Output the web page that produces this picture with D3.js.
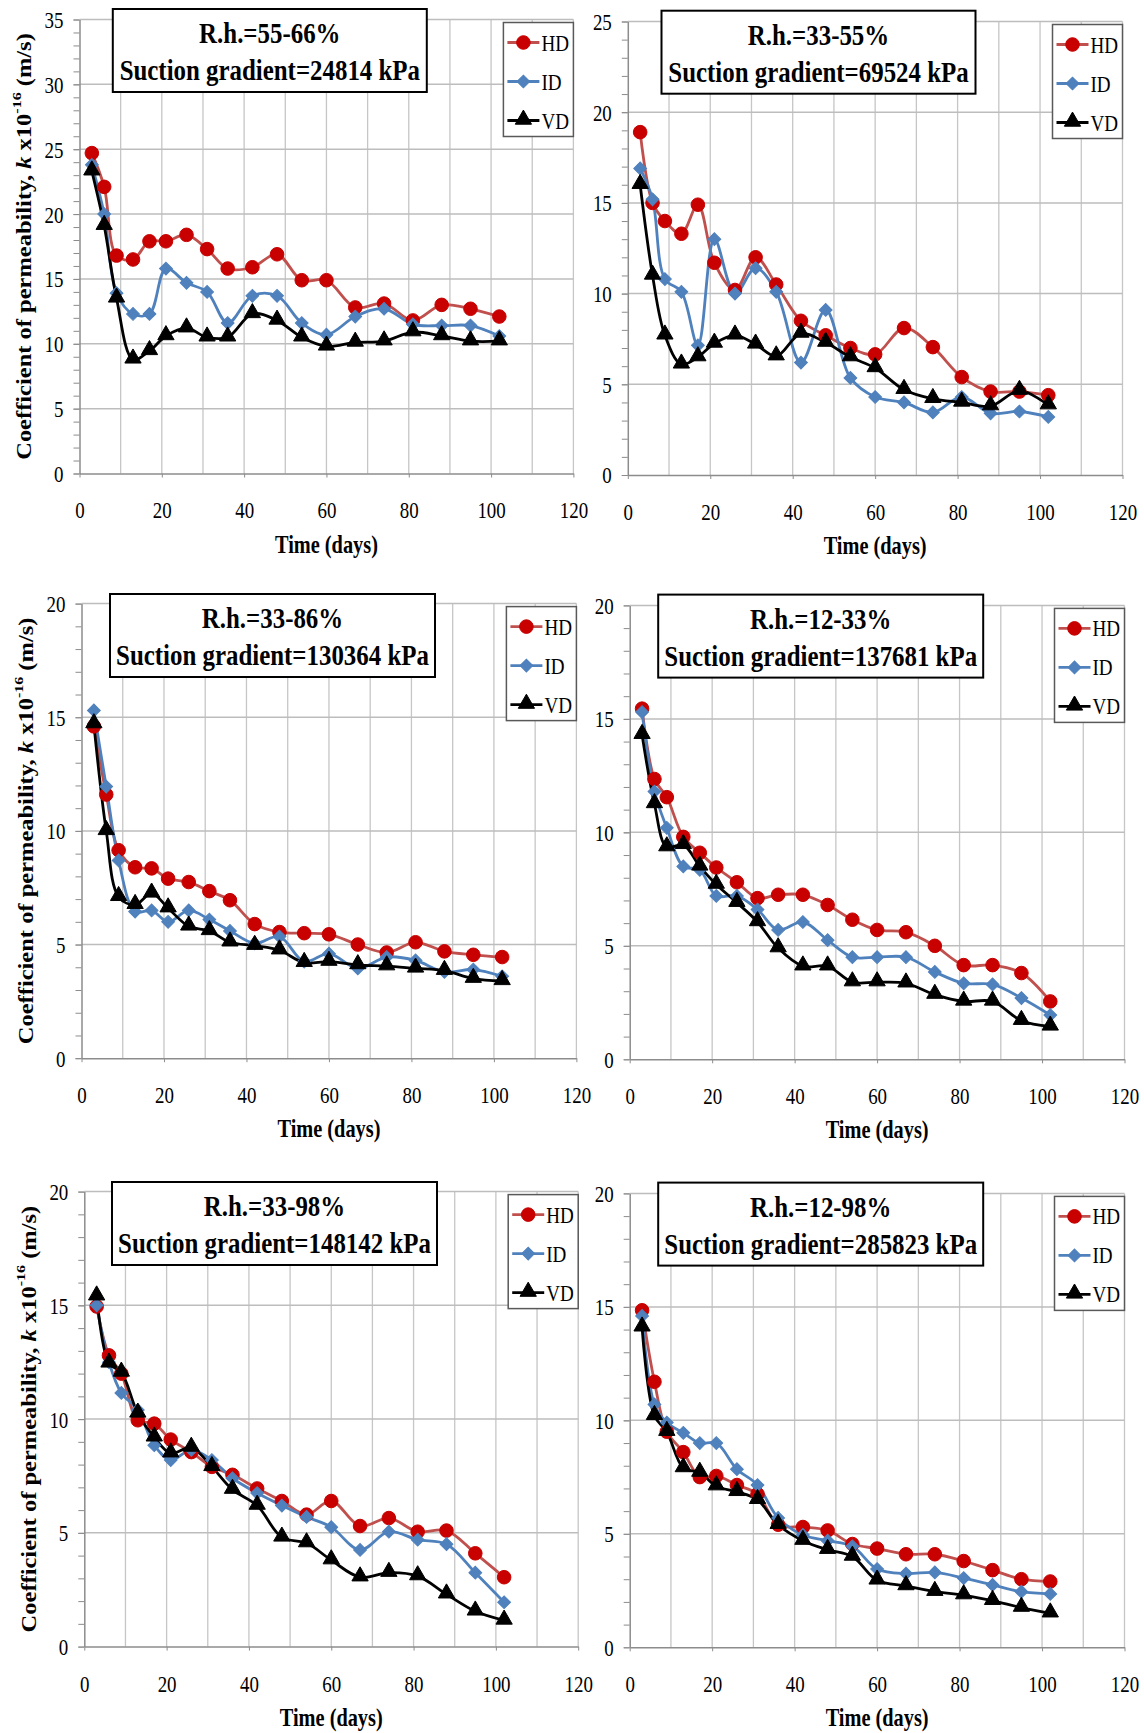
<!DOCTYPE html>
<html>
<head>
<meta charset="utf-8">
<script src="https://cdn.jsdelivr.net/npm/d3@7"></script>
<style>
  body { margin: 0; background: #fff; }
  svg { display: block; }
  svg text { font-family: 'Liberation Serif', 'Times New Roman', serif; }
</style>
</head>
<body>
<script>
// sampling days (x)
const days = [3, 6, 9, 13, 17, 21, 26, 31, 36, 42, 48, 54, 60, 67, 74, 81, 88, 95, 102];
const xTicks = [0, 20, 40, 60, 80, 100, 120];
const seriesNames = ['HD', 'ID', 'VD'];

const rhLabels = ['R.h.=55-66%', 'R.h.=33-55%', 'R.h.=33-86%', 'R.h.=12-33%', 'R.h.=33-98%', 'R.h.=12-98%'];
const suctionLabels = [
  'Suction gradient=24814 kPa',
  'Suction gradient=69524 kPa',
  'Suction gradient=130364 kPa',
  'Suction gradient=137681 kPa',
  'Suction gradient=148142 kPa',
  'Suction gradient=285823 kPa'
];
const yMax = [35, 25, 20, 20, 20, 20];

// panel 1 : R.h. 55-66%
const hd1 = [24.7, 22.1, 16.8, 16.5, 17.9, 17.9, 18.4, 17.3, 15.8, 15.9, 16.9, 14.9, 14.9, 12.8, 13.1, 11.8, 13.0, 12.7, 12.1];
const id1 = [23.8, 20.0, 13.9, 12.3, 12.3, 15.8, 14.7, 14.0, 11.6, 13.7, 13.7, 11.6, 10.7, 12.1, 12.7, 11.5, 11.4, 11.4, 10.6];
const vd1 = [23.3, 19.1, 13.5, 8.8, 9.45, 10.6, 11.2, 10.5, 10.5, 12.3, 11.8, 10.5, 9.8, 10.1, 10.2, 10.9, 10.6, 10.2, 10.2];
// panel 2 : R.h. 33-55%
const hd2 = [18.9, 15.0, 14.0, 13.3, 14.9, 11.7, 10.2, 12.0, 10.5, 8.5, 7.7, 7.0, 6.65, 8.1, 7.05, 5.4, 4.6, 4.6, 4.4];
const id2 = [16.9, 15.2, 10.8, 10.1, 7.15, 13.0, 10.0, 11.4, 10.1, 6.2, 9.1, 5.35, 4.3, 4.0, 3.45, 4.3, 3.4, 3.5, 3.2];
const vd2 = [16.0, 11.0, 7.7, 6.1, 6.5, 7.25, 7.7, 7.2, 6.55, 7.8, 7.3, 6.5, 5.9, 4.7, 4.2, 4.0, 3.8, 4.65, 3.85];
// panel 3 : R.h. 33-86%
const hd3 = [14.6, 11.6, 9.15, 8.4, 8.35, 7.9, 7.75, 7.35, 6.95, 5.9, 5.55, 5.5, 5.45, 5.0, 4.65, 5.1, 4.7, 4.55, 4.45];
const id3 = [15.3, 11.95, 8.7, 6.45, 6.5, 6.0, 6.5, 6.1, 5.6, 5.05, 5.35, 4.25, 4.6, 3.95, 4.45, 4.3, 3.8, 3.9, 3.6];
const vd3 = [14.7, 10.0, 7.1, 6.75, 7.25, 6.6, 5.8, 5.6, 5.1, 4.95, 4.75, 4.2, 4.25, 4.1, 4.05, 3.95, 3.85, 3.5, 3.4];
// panel 4 : R.h. 12-33%
const hd4 = [15.45, 12.35, 11.55, 9.8, 9.1, 8.45, 7.8, 7.1, 7.25, 7.25, 6.8, 6.15, 5.7, 5.6, 5.0, 4.15, 4.15, 3.8, 2.55];
const id4 = [15.3, 11.8, 10.2, 8.5, 8.35, 7.2, 7.2, 6.6, 5.7, 6.05, 5.25, 4.5, 4.5, 4.5, 3.85, 3.35, 3.3, 2.7, 1.95];
const vd4 = [14.3, 11.25, 9.35, 9.45, 8.5, 7.7, 6.9, 6.05, 4.9, 4.1, 4.1, 3.4, 3.4, 3.35, 2.85, 2.55, 2.55, 1.7, 1.45];
// panel 5 : R.h. 33-98%
const hd5 = [14.95, 12.8, 12.0, 9.95, 9.8, 9.1, 8.55, 7.9, 7.55, 6.95, 6.4, 5.8, 6.4, 5.3, 5.65, 5.05, 5.1, 4.1, 3.05];
const id5 = [15.0, 12.5, 11.15, 10.4, 8.85, 8.2, 8.65, 8.2, 7.4, 6.75, 6.2, 5.7, 5.25, 4.25, 5.05, 4.7, 4.5, 3.25, 1.95];
const vd5 = [15.4, 12.45, 12.05, 10.25, 9.2, 8.5, 8.75, 7.9, 6.9, 6.2, 4.8, 4.55, 3.8, 3.05, 3.25, 3.1, 2.3, 1.55, 1.15];
// panel 6 : R.h. 12-98%
const hd6 = [14.85, 11.7, 9.5, 8.6, 7.5, 7.55, 7.15, 6.75, 5.4, 5.3, 5.15, 4.55, 4.35, 4.1, 4.1, 3.8, 3.4, 3.0, 2.9];
const id6 = [14.6, 10.7, 9.9, 9.45, 9.0, 9.0, 7.85, 7.15, 5.7, 4.95, 4.7, 4.45, 3.45, 3.25, 3.3, 3.05, 2.75, 2.45, 2.35];
const vd6 = [14.1, 10.2, 9.5, 7.9, 7.7, 7.1, 6.85, 6.5, 5.4, 4.7, 4.3, 4.0, 2.95, 2.7, 2.45, 2.3, 2.05, 1.75, 1.5];

const panelSeries = [[hd1, id1, vd1], [hd2, id2, vd2], [hd3, id3, vd3], [hd4, id4, vd4], [hd5, id5, vd5], [hd6, id6, vd6]];

// plot frames (pixel boxes of each chart)
const frames = [
  { left: 79.5, right: 573.4, top: 19.5, bottom: 473.5 },
  { left: 627.8, right: 1122.5, top: 21.5, bottom: 475 },
  { left: 81.5, right: 576.4, top: 603.6, bottom: 1058.2 },
  { left: 629.7, right: 1124.5, top: 605.4, bottom: 1059.3 },
  { left: 84.3, right: 578.2, top: 1191.6, bottom: 1646.6 },
  { left: 629.7, right: 1124.5, top: 1193.4, bottom: 1647.3 }
];
const titleBoxes = [
  { x: 112.8, w: 314, y: 9, h: 83 },
  { x: 661.5, w: 314, y: 10.7, h: 83 },
  { x: 110, w: 325, y: 594, h: 83 },
  { x: 658.2, w: 325, y: 594.6, h: 83 },
  { x: 112, w: 325, y: 1182, h: 83 },
  { x: 658.2, w: 325, y: 1182.6, h: 83 }
];

const styles = {
  HD: { line: '#C0504D', fill: '#C80000', symbol: 'circle' },
  ID: { line: '#4F81BD', fill: '#4F81BD', symbol: 'diamond' },
  VD: { line: '#000000', fill: '#000000', symbol: 'triangle' }
};

const SERIF = "'Liberation Serif', 'Times New Roman', serif";
const SQ = 0.83; // horizontal squeeze of the original picture

const svg = d3.select('body').append('svg')
  .attr('width', 1144)
  .attr('height', 1733);

svg.append('rect').attr('width', 1144).attr('height', 1733).attr('fill', '#fff');

function addText(parent, x, y, str, size, weight, anchor) {
  return parent.append('text')
    .attr('transform', `translate(${x},${y}) scale(${SQ},1)`)
    .attr('text-anchor', anchor || 'middle')
    .attr('font-family', SERIF)
    .attr('font-size', size)
    .attr('font-weight', weight || 'normal')
    .attr('fill', '#000')
    .text(str);
}

function markerPath(kind) {
  if (kind === 'diamond') return d3.symbol(d3.symbolSquare, 82)();
  if (kind === 'triangle') return d3.symbol(d3.symbolTriangle, 115)();
  return d3.symbol(d3.symbolCircle, 145)();
}

function drawMarker(g, kind, cx, cy) {
  const st = styles[kind];
  const rot = st.symbol === 'diamond' ? ' rotate(45)' : '';
  const dy = st.symbol === 'triangle' ? -1 : 0;
  g.append('path')
    .attr('d', markerPath(st.symbol))
    .attr('transform', `translate(${cx},${cy + dy})${rot}`)
    .attr('fill', st.fill)
    .attr('stroke', st.fill)
    .attr('stroke-width', 1);
}

function drawPanel(i) {
  const f = frames[i];
  const g = svg.append('g').attr('class', 'panel');

  const xScale = d3.scaleLinear().domain([0, 120]).range([f.left, f.right]);
  const yScale = d3.scaleLinear().domain([0, yMax[i]]).range([f.bottom, f.top]);

  // gridlines
  g.append('g').selectAll('line')
    .data(d3.range(10, 121, 10))
    .enter().append('line')
    .attr('x1', d => xScale(d)).attr('x2', d => xScale(d))
    .attr('y1', f.top).attr('y2', f.bottom)
    .attr('stroke', '#c6c6c6').attr('stroke-width', 1.3);

  g.append('g').selectAll('line')
    .data(d3.range(5, yMax[i] + 1, 5))
    .enter().append('line')
    .attr('x1', f.left).attr('x2', f.right)
    .attr('y1', d => yScale(d)).attr('y2', d => yScale(d))
    .attr('stroke', '#bdbdbd').attr('stroke-width', 1.5);

  // x axis
  const xAxis = d3.axisBottom(xScale).tickValues(xTicks).tickSize(4).tickSizeOuter(0);
  const gx = g.append('g')
    .attr('transform', `translate(0,${f.bottom})`)
    .call(xAxis);
  gx.attr('font-family', SERIF).attr('font-size', 24);
  gx.select('.domain').attr('stroke', '#8c8c8c').attr('stroke-width', 1.5);
  gx.selectAll('.tick line').attr('stroke', '#8c8c8c');
  gx.selectAll('.tick text')
    .attr('font-family', SERIF)
    .attr('font-size', 24)
    .attr('fill', '#000')
    .attr('y', 45).attr('dy', null)
    .attr('transform', `scale(${SQ * 0.95},1)`);

  // y axis, minor ticks every unit
  const yAxisMinor = d3.axisLeft(yScale).tickValues(d3.range(0, yMax[i] + 1, 1)).tickSize(6).tickSizeOuter(0).tickFormat('');
  const gyMinor = g.append('g').attr('transform', `translate(${f.left},0)`).call(yAxisMinor);
  gyMinor.select('.domain').attr('stroke', '#8c8c8c').attr('stroke-width', 1.5);
  gyMinor.selectAll('.tick line').attr('stroke', '#8c8c8c');

  const yAxis = d3.axisLeft(yScale).tickValues(d3.range(0, yMax[i] + 1, 5)).tickSize(6).tickSizeOuter(0);
  const gy = g.append('g').attr('transform', `translate(${f.left},0)`).call(yAxis);
  gy.attr('font-family', SERIF).attr('font-size', 24);
  gy.select('.domain').remove();
  gy.selectAll('.tick line').attr('stroke', '#8c8c8c');
  gy.selectAll('.tick text')
    .attr('font-family', SERIF)
    .attr('font-size', 24)
    .attr('fill', '#000')
    .attr('x', -16 / (SQ * 0.95)).attr('dy', '0.33em')
    .attr('transform', `scale(${SQ * 0.95},1)`);

  // x axis title
  addText(g, (f.left + f.right) / 2, f.bottom + 79, 'Time (days)', 24.5, 'bold');

  // y axis title for the left column
  if (i % 2 === 0) {
    const yl = g.append('text')
      .attr('transform', `translate(${f.left - 56},${(f.top + f.bottom) / 2}) rotate(-90) scale(1,${SQ})`)
      .attr('text-anchor', 'middle')
      .attr('dominant-baseline', 'central')
      .attr('font-family', SERIF)
      .attr('font-size', 24.5)
      .attr('font-weight', 'bold')
      .attr('fill', '#000');
    yl.append('tspan').text('Coefficient of permeability, ');
    yl.append('tspan').attr('font-style', 'italic').text('k');
    yl.append('tspan').text(' x10');
    yl.append('tspan').attr('font-size', 16).attr('dy', -9).text('-16');
    yl.append('tspan').attr('dy', 9).text(' (m/s)');
  }

  // series
  const line = d3.line()
    .x((d, k) => xScale(days[k]))
    .y(d => yScale(d))
    .curve(d3.curveCatmullRom.alpha(0.5));

  panelSeries[i].forEach((vals, s) => {
    const name = seriesNames[s];
    g.append('path')
      .datum(vals)
      .attr('d', line)
      .attr('fill', 'none')
      .attr('stroke', styles[name].line)
      .attr('stroke-width', 2.8);
  });
  panelSeries[i].forEach((vals, s) => {
    const name = seriesNames[s];
    const mg = g.append('g');
    vals.forEach((v, k) => drawMarker(mg, name, xScale(days[k]), yScale(v)));
  });

  // title box
  const tb = titleBoxes[i];
  g.append('rect')
    .attr('x', tb.x).attr('y', tb.y)
    .attr('width', tb.w).attr('height', tb.h)
    .attr('fill', '#fff').attr('stroke', '#000').attr('stroke-width', 2);
  addText(g, tb.x + tb.w / 2, tb.y + 34, rhLabels[i], 30, 'bold');
  addText(g, tb.x + tb.w / 2, tb.y + 71, suctionLabels[i], 30, 'bold');

  // legend
  const lw = 70, lh = 114;
  const lx = f.right - lw, ly = f.top + 3;
  const lg = g.append('g');
  lg.append('rect')
    .attr('x', lx).attr('y', ly).attr('width', lw).attr('height', lh)
    .attr('fill', '#fff').attr('stroke', '#595959').attr('stroke-width', 1.5);
  seriesNames.forEach((name, s) => {
    const ry = ly + 20 + s * 39;
    lg.append('line')
      .attr('x1', lx + 4).attr('x2', lx + 36)
      .attr('y1', ry).attr('y2', ry)
      .attr('stroke', styles[name].line).attr('stroke-width', 2.8);
    drawMarker(lg, name, lx + 20, ry);
    addText(lg, lx + 38, ry + 8, name, 23, 'normal', 'start');
  });
}

for (let i = 0; i < 6; i++) drawPanel(i);
</script>
</body>
</html>
